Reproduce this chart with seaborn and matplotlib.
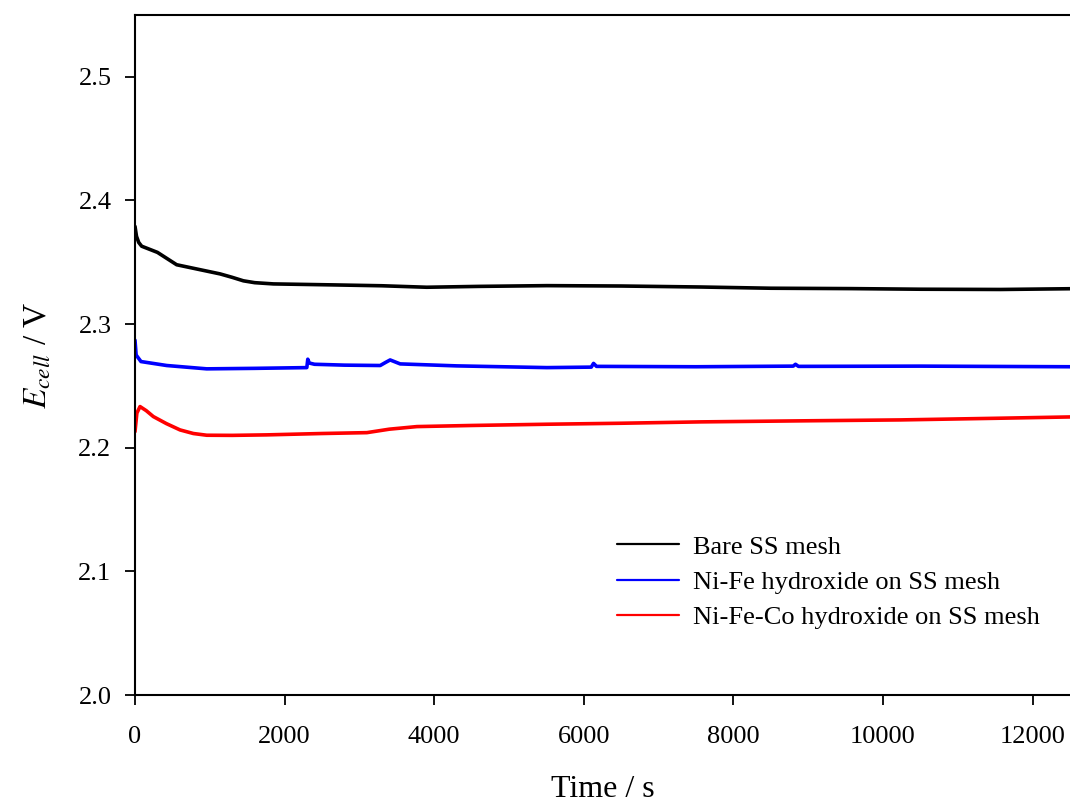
import numpy as np
import pandas as pd
import matplotlib
matplotlib.use("Agg")
import matplotlib.pyplot as plt
import seaborn as sns

# values (time in s, cell voltage in V)
t_bare = [0, 20, 50, 89, 300, 557, 870, 1137, 1300, 1449, 1600, 1850, 2650, 3300, 3900,
          4600, 5507, 6500, 7560, 8500, 9565, 10500, 11572, 12500]
e_bare = [2.379, 2.371, 2.366, 2.363, 2.358, 2.348, 2.344, 2.3406, 2.3378, 2.335, 2.3335,
          2.3325, 2.3317, 2.3310, 2.3298, 2.3305, 2.3311, 2.3308, 2.3300, 2.3290, 2.3287,
          2.3282, 2.3280, 2.3286]

t_nife = [0, 15, 80, 424, 959, 1600, 2297, 2310, 2330, 2400, 2800, 3278, 3350, 3411,
          3545, 4300, 5507, 6100, 6130, 6170, 7500, 8800, 8830, 8870, 10500, 12500]
e_nife = [2.287, 2.275, 2.2697, 2.2665, 2.2638, 2.2642, 2.2648, 2.2716, 2.2685, 2.2675,
          2.2668, 2.2665, 2.2690, 2.2710, 2.2678, 2.2662, 2.2648, 2.2652, 2.2682, 2.2658,
          2.2655, 2.2660, 2.2675, 2.2658, 2.2660, 2.2655]

t_nifeco = [0, 25, 67, 150, 245, 420, 602, 780, 959, 1300, 1762, 2500, 3100, 3400, 3769,
            4500, 5507, 6500, 7560, 9000, 10234, 11500, 12500]
e_nifeco = [2.213, 2.228, 2.2333, 2.2300, 2.2252, 2.2195, 2.2144, 2.2115, 2.2101, 2.2100,
            2.2104, 2.2115, 2.2122, 2.2150, 2.2171, 2.2180, 2.2190, 2.2198, 2.2209, 2.2218,
            2.2225, 2.2238, 2.2249]

labels = ["Bare SS mesh", "Ni-Fe hydroxide on SS mesh", "Ni-Fe-Co hydroxide on SS mesh"]
colors = ["#000000", "#0000ff", "#ff0000"]

df = pd.concat([
    pd.DataFrame({"t": t_bare, "E": e_bare, "sample": labels[0]}),
    pd.DataFrame({"t": t_nife, "E": e_nife, "sample": labels[1]}),
    pd.DataFrame({"t": t_nifeco, "E": e_nifeco, "sample": labels[2]}),
])

sns.set_style("ticks")
plt.rcParams["font.family"] = ["Liberation Serif", "DejaVu Serif"]
plt.rcParams["mathtext.fontset"] = "stix"
plt.rcParams["text.color"] = "black"
plt.rcParams["axes.labelcolor"] = "black"
plt.rcParams["xtick.color"] = "black"
plt.rcParams["ytick.color"] = "black"

fig = plt.figure(figsize=(10.7, 8.05), dpi=100)
ax = fig.add_axes([135 / 1070, 110 / 805, 935 / 1070, 680 / 805])

sns.lineplot(data=df, x="t", y="E", hue="sample", palette=colors, sort=False,
             estimator=None, linewidth=2.6, ax=ax)

ax.set_xlim(0, 12500)
ax.set_ylim(2.0, 2.55)
ax.set_xticks([0, 2000, 4000, 6000, 8000, 10000, 12000])
ax.set_yticks([2.0, 2.1, 2.2, 2.3, 2.4, 2.5])
ax.set_yticklabels(["2.0", "2.1", "2.2", "2.3", "2.4", "2.5"])
ax.tick_params(direction="out", length=7, width=1.3, labelsize=19, pad=10,
               color="black", labelcolor="black")
ax.tick_params(axis="x", pad=15)
for s in ["left", "bottom", "top"]:
    ax.spines[s].set_linewidth(1.5)
    ax.spines[s].set_color("black")
ax.spines["right"].set_visible(False)

ax.set_xlabel("Time / s", fontsize=23, labelpad=20)
ax.set_ylabel("$E_{cell}$ / V", fontsize=24, labelpad=18)

leg = ax.legend(loc="upper left", bbox_to_anchor=(0.515, 0.235), frameon=False,
                fontsize=19, handlelength=2.35, handletextpad=0.55,
                labelspacing=0.45, borderpad=0, borderaxespad=0)
for line in leg.get_lines():
    line.set_linewidth(1.6)

fig.savefig("out.png", dpi=100)
